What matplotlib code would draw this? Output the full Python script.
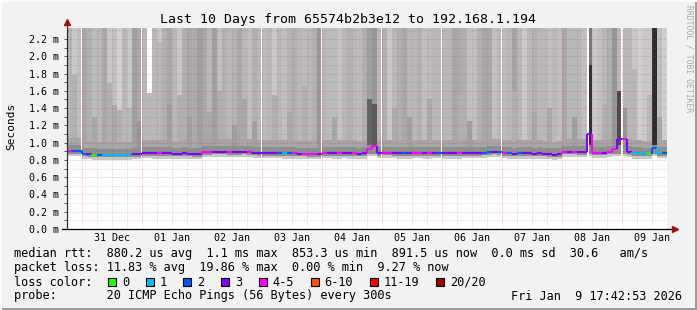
import matplotlib
matplotlib.use("Agg")
import matplotlib.pyplot as plt
import numpy as np
from matplotlib.collections import LineCollection
from matplotlib.patches import Rectangle

# ---- data (hours since 31 Dec 00:00, one column = 2 h) ----
col_start = np.arange(-6, 234, 2)

# grey level of the upper smoke per column
top_shade = [180, 200, 190,
             168, 176, 188, 184, 168, 200, 192, 208, 184, 200, 160, 168,   # 31 Dec
             184, 255, 184, 200, 176, 168, 184, 200, 176, 168, 172, 160,   # 01 Jan
             168, 184, 160, 192, 176, 184, 180, 168, 184, 192, 176, 184,   # 02 Jan
             188, 184, 200, 184, 192, 180, 176, 184, 188, 184, 176, 150,   # 03 Jan
             184, 188, 188, 196, 184, 176, 184, 188, 176, 160, 150, 184,   # 04 Jan
             176, 200, 184, 176, 168, 184, 184, 176, 192, 188, 184, 184,   # 05 Jan
             184, 184, 168, 172, 176, 192, 192, 176, 168, 168, 192, 184,   # 06 Jan
             188, 184, 164, 184, 200, 184, 176, 184, 184, 192, 184, 192,   # 07 Jan
             168, 184, 184, 184, 192, 120, 200, 192, 184, 176, 150, 184,   # 08 Jan
             184, 184, 200, 208, 200, 200, 45, 192, 208]                   # 09 Jan

# (column, height in ms where the upper shade starts, grey level below it)
smoke_steps = [(1, 1.78, 176), (5, 1.30, 168), (8, 1.69, 176), (9, 1.44, 168),
               (10, 1.38, 176), (12, 1.40, 184), (14, 1.25, 150), (16, 1.57, 184),
               (18, 2.17, 184), (20, 1.45, 160), (22, 1.55, 176), (24, 1.30, 160),
               (28, 1.35, 168), (30, 1.60, 176), (33, 1.20, 160), (35, 1.50, 168),
               (37, 1.25, 160), (41, 1.55, 176), (44, 1.35, 170), (47, 1.65, 176),
               (53, 1.30, 168), (56, 1.45, 176), (60, 1.50, 100), (61, 1.45, 90),
               (65, 1.40, 172), (68, 1.30, 160), (72, 1.50, 170), (78, 1.55, 176),
               (80, 1.25, 160), (83, 1.45, 168), (89, 1.60, 176), (93, 1.35, 168),
               (96, 1.40, 170), (101, 1.30, 160), (104, 1.90, 50), (107, 1.45, 176),
               (110, 1.60, 75), (111, 1.40, 150), (113, 1.85, 184), (116, 1.55, 184),
               (118, 1.30, 168)]

median_ms = [0.905, 0.905, 0.905,
             0.870, 0.865, 0.862, 0.860, 0.858, 0.858, 0.858, 0.858, 0.858, 0.858, 0.865, 0.865,
             0.878, 0.878, 0.875, 0.875, 0.875, 0.875, 0.872, 0.872, 0.875, 0.872, 0.868, 0.865,
             0.890, 0.890, 0.895, 0.895, 0.895, 0.890, 0.890, 0.890, 0.895, 0.890, 0.885, 0.880,
             0.880, 0.880, 0.878, 0.878, 0.875, 0.875, 0.875, 0.870, 0.870, 0.865, 0.865, 0.868,
             0.878, 0.880, 0.875, 0.875, 0.878, 0.875, 0.875, 0.872, 0.875, 0.930, 0.965, 0.878,
             0.882, 0.882, 0.878, 0.875, 0.875, 0.875, 0.878, 0.878, 0.875, 0.875, 0.878, 0.880,
             0.875, 0.875, 0.875, 0.875, 0.878, 0.878, 0.878, 0.880, 0.882, 0.890, 0.895, 0.890,
             0.880, 0.875, 0.872, 0.875, 0.875, 0.875, 0.872, 0.875, 0.872, 0.865, 0.862, 0.865,
             0.895, 0.895, 0.893, 0.890, 0.890, 1.100, 0.885, 0.885, 0.885, 0.895, 0.930, 1.045,
             1.040, 0.890, 0.875, 0.875, 0.872, 0.870, 0.940, 0.878, 0.878]

loss_code = [4, 2, 2,
             2, 3, 0, 2, 1, 1, 1, 1, 1, 1, 3, 3,
             3, 3, 3, 4, 3, 3, 3, 3, 3, 3, 3, 3,
             4, 4, 3, 3, 3, 4, 3, 3, 3, 4, 3, 3,
             3, 3, 3, 2, 1, 2, 4, 3, 4, 4, 4, 3,
             4, 3, 3, 4, 3, 3, 4, 3, 3, 4, 4, 3,
             4, 4, 3, 3, 2, 3, 4, 4, 3, 4, 3, 2,
             3, 3, 3, 4, 3, 3, 3, 3, 2, 2, 3, 2,
             4, 2, 3, 2, 3, 3, 3, 3, 3, 3, 3, 3,
             4, 3, 4, 3, 3, 3, 4, 4, 3, 4, 4, 3,
             4, 3, 1, 1, 1, 0, 2, 1, 2]

# missing data (start hour), each about 0.7 h long
gaps_h = [-0.6, 23.4, 71.4, 95.4, 119.4, 143.4, 167.4, 202.0, 215.5]

loss_labels = ["0", "1", "2", "3", "4-5", "6-10", "11-19", "20/20"]
loss_colors = ["#26ff00", "#00b8ff", "#0059ff", "#7e00ff", "#ff00ff",
               "#ff5500", "#ff0000", "#a10000"]
day_labels = ["31 Dec", "01 Jan", "02 Jan", "03 Jan", "04 Jan",
              "05 Jan", "06 Jan", "07 Jan", "08 Jan", "09 Jan"]

title = "Last 10 Days from 65574b2b3e12 to 192.168.1.194"
legend_rtt = "median rtt:  880.2 us avg  1.1 ms max  853.3 us min  891.5 us now  0.0 ms sd  30.6   am/s"
legend_loss = "packet loss: 11.83 % avg  19.86 % max  0.00 % min  9.27 % now"
legend_probe = "probe:       20 ICMP Echo Pings (56 Bytes) every 300s"
stamp = "Fri Jan  9 17:42:53 2026"

# ---- figure ----
W, H = 697, 310
BG = "#f2f2f2"
MONO = "DejaVu Sans Mono"
fig = plt.figure(figsize=(W / 100, H / 100), dpi=100, facecolor=BG)
ax = fig.add_axes([67 / W, (H - 229) / H, 600 / W, 201 / H])
ax.set_facecolor("white")
ax.set_xlim(-6, 234)
ax.set_ylim(0, 2.327)

def grey(v):
    return (v / 255, v / 255, v / 255)

med = np.array(median_ms)
base = np.minimum(med, 0.9)
low_top = base + 0.15
split = low_top.copy()
low_shade = list(top_shade)
for c, h, s in smoke_steps:
    split[c] = h
    low_shade[c] = s

kw = dict(width=2, align="edge", linewidth=0, antialiased=False, zorder=1)
ax.bar(col_start, 0.03, bottom=base - 0.06, color=grey(200), **kw)
ax.bar(col_start, 0.10, bottom=base - 0.03, color=grey(142), **kw)
ax.bar(col_start, 0.08, bottom=base + 0.07,
       color=[grey(min(165, s)) for s in low_shade], **kw)
ax.bar(col_start, split - low_top, bottom=low_top, color=[grey(s) for s in low_shade], **kw)
ax.bar(col_start, 3.0 - split, bottom=split, color=[grey(s) for s in top_shade], **kw)
for g in gaps_h:
    ax.axvspan(g, g + 0.7, color="white", lw=0, zorder=1.5)

# grid
red = (1.0, 0.1, 0.1, 0.38)
gry = (0.45, 0.45, 0.45, 0.35)
dots = (0, (1.0, 2.0))
for h in np.arange(-6, 234, 6):
    major = h % 24 == 0
    ax.axvline(h, color=red if major else gry, lw=0.72, ls=dots, zorder=2)
for v in np.arange(0.1, 2.35, 0.1):
    major = round(v * 10) % 2 == 0
    ax.axhline(v, color=red if major else gry, lw=0.72, ls=dots, zorder=2)

# median line coloured by loss
segs, cols = [], []
for i, (x, m) in enumerate(zip(col_start, med)):
    if i > 0:
        segs.append([(x, med[i - 1]), (x, m)])
        cols.append(loss_colors[loss_code[i]])
    segs.append([(x, m), (x + 2, m)])
    cols.append(loss_colors[loss_code[i]])
ax.add_collection(LineCollection(segs, colors=cols, linewidths=1.5, capstyle="butt", zorder=3))

# axes
for s in ax.spines.values():
    s.set_visible(False)
ax.plot([-8, 236.5], [0, 0], color="black", lw=0.9, clip_on=False, zorder=4)
ax.plot([-6, -6], [0, 2.39], color="#333333", lw=0.9, clip_on=False, zorder=4)
ax.plot([237], [0], marker=">", color="#a01010", ms=4, clip_on=False, zorder=4)
ax.plot([-6], [2.4], marker="^", color="#a01010", ms=4, clip_on=False, zorder=4)

ax.set_yticks(np.arange(0, 2.25, 0.2))
ax.set_yticklabels(["%.1f m" % v for v in np.arange(0, 2.25, 0.2)],
                   family=MONO, fontsize=7.2)
ax.set_yticks(np.arange(0.1, 2.3, 0.2), minor=True)
ax.tick_params(axis="y", which="both", length=2, width=0.7, color="#555555", pad=3.6)
ax.set_xticks([])
xtr = ax.get_xaxis_transform()
for k, lab in enumerate(day_labels):
    ax.text(12 + 24 * k, -0.046, lab, transform=xtr, ha="center", va="center",
            family=MONO, fontsize=7.2)

def fx(px):
    return px / W

def fy(py):
    return 1 - py / H

fig.text(fx(347.5), fy(19), title, ha="center", va="center", family=MONO, fontsize=9.55)
fig.text(fx(11), fy(126.5), "Seconds", rotation=90, ha="center", va="center",
         family=MONO, fontsize=8)
fig.text(fx(689), fy(58.5), "RRDTOOL / TOBI OETIKER", rotation=270, ha="center",
         va="center", family=MONO, fontsize=5.8, color="#a8a8a8")

CW = 7.15
fig.text(fx(14.5), fy(254), legend_rtt, ha="left", va="center", family=MONO, fontsize=8.55)
fig.text(fx(14.5), fy(268), legend_loss, ha="left", va="center", family=MONO, fontsize=8.55)
fig.text(fx(14.5), fy(282), "loss color:", ha="left", va="center", family=MONO, fontsize=8.55)
fig.text(fx(14.5), fy(296), legend_probe, ha="left", va="center", family=MONO, fontsize=8.55)
fig.text(fx(682), fy(296), stamp, ha="right", va="center", family=MONO, fontsize=8.55)

bx = 108
for lab, c in zip(loss_labels, loss_colors):
    fig.patches.append(Rectangle((fx(bx), fy(286)), 8 / W, 8 / H, transform=fig.transFigure,
                                 facecolor=c, edgecolor="black", lw=0.8))
    lx = bx + 14
    fig.text(fx(lx), fy(282), lab, ha="left", va="center", family=MONO, fontsize=8.55)
    bx = lx + len(lab) * CW + 16.5

# 3d frame
fig.patches.append(Rectangle((fx(695), 0), 2 / W, 1, transform=fig.transFigure,
                             facecolor="#9c9c9c", lw=0))
fig.patches.append(Rectangle((0, 0), 1, 2 / H, transform=fig.transFigure,
                             facecolor="#9c9c9c", lw=0))
fig.patches.append(Rectangle((0, 0), 2 / W, 1, transform=fig.transFigure,
                             facecolor="#fcfcfc", lw=0))
fig.patches.append(Rectangle((0, fy(2)), 1, 2 / H, transform=fig.transFigure,
                             facecolor="#fcfcfc", lw=0))

fig.savefig("out.png", dpi=100, facecolor=BG)
